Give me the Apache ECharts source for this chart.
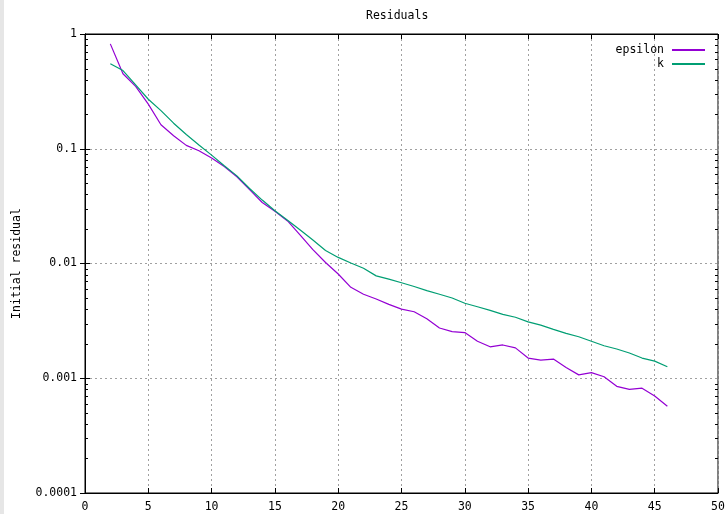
<!DOCTYPE html>
<html>
<head>
<meta charset="utf-8">
<script src="https://cdn.jsdelivr.net/npm/echarts@6/dist/echarts.min.js"></script>
<style>
html,body{margin:0;padding:0;background:#fff;}
#chart{width:727px;height:514px;}
</style>
</head>
<body>
<div id="chart"></div>
<script>
var iterations = [2,3,4,5,6,7,8,9,10,11,12,13,14,15,16,17,18,19,20,21,22,23,24,25,26,27,28,29,30,31,32,33,34,35,36,37,38,39,40,41,42,43,44,45,46];
var epsilonRes = [0.82,0.45,0.35,0.245,0.162,0.13,0.107,0.096,0.083,0.07,0.057,0.044,0.034,0.0285,0.0235,0.0177,0.0132,0.0102,0.0081,0.0062,0.0054,0.0049,0.0044,0.0040,0.0038,0.0033,0.00274,0.00255,0.0025,0.0021,0.00188,0.00195,0.00184,0.0015,0.00144,0.00147,0.00124,0.00107,0.00112,0.00103,0.00085,0.0008,0.00082,0.0007,0.00057];
var kRes = [0.55,0.48,0.36,0.27,0.215,0.167,0.133,0.108,0.088,0.071,0.058,0.045,0.0357,0.0288,0.0238,0.0196,0.016,0.013,0.0113,0.0101,0.0091,0.0078,0.0073,0.0068,0.0063,0.0058,0.0054,0.005,0.0045,0.0042,0.0039,0.0036,0.0034,0.0031,0.0029,0.00267,0.00246,0.0023,0.0021,0.00192,0.0018,0.00166,0.0015,0.00141,0.00126];
var yTickLabels = ['0.0001','0.001','0.01','0.1','1'];
var minorTicks = [0.0002,0.0003,0.0004,0.0005,0.0006,0.0007,0.0008,0.0009,
                  0.002,0.003,0.004,0.005,0.006,0.007,0.008,0.009,
                  0.02,0.03,0.04,0.05,0.06,0.07,0.08,0.09,
                  0.2,0.3,0.4,0.5,0.6,0.7,0.8,0.9];
var seriesNames = ['epsilon','k'];
var colors = ['#9400d3','#009e73'];
var FONT = 'DejaVu Sans Mono';

function pairs(xs, ys){ return xs.map(function(x,i){ return [x, ys[i]]; }); }
function fmtLog(v){
  var e = Math.round(Math.log10(v));
  return yTickLabels[e + 4] !== undefined ? yTickLabels[e + 4] : '';
}

var chart = echarts.init(document.getElementById('chart'), null, {renderer:'canvas'});
var option = {
  animation: false,
  backgroundColor: '#ffffff',
  title: {
    text: 'Residuals', left: 361, top: 5,
    textStyle: {fontFamily: FONT, fontSize: 11.5, fontWeight: 'normal', color: '#000'}
  },
  graphic: [{type:'rect', shape:{x:0,y:0,width:4,height:514}, style:{fill:'#e6e6e6'}, silent:true}],
  legend: {
    data: seriesNames, orient: 'vertical', right: 17, top: 39, align: 'right',
    itemWidth: 33, itemHeight: 12, itemGap: 2,
    icon: 'path://M0 0H33V2H0Z',
    textStyle: {fontFamily: FONT, fontSize: 11.5, color: '#000', padding: [0,3,0,0]}
  },
  grid: {left: 85, right: 9, top: 34, bottom: 21, containLabel: false, outerBoundsMode: 'none',
         show: true, borderColor: '#000', borderWidth: 1},
  xAxis: [{
    type: 'value', min: 0, max: 50, interval: 5, position: 'bottom',
    axisLine: {show: true, onZero: false, lineStyle: {color: '#000', width: 1}},
    axisTick: {show: true, inside: true, length: 5, lineStyle: {color: '#000'}},
    axisLabel: {fontFamily: FONT, fontSize: 11.5, color: '#000', margin: 8},
    splitLine: {show: true, lineStyle: {color: '#a0a0a0', type: [2,3], width: 1}}
  },{
    type: 'value', min: 0, max: 50, interval: 5, position: 'top',
    axisLine: {show: true, onZero: false, lineStyle: {color: '#000', width: 1}},
    axisTick: {show: true, inside: true, length: 5, lineStyle: {color: '#000'}},
    axisLabel: {show: false}, splitLine: {show: false}
  }],
  yAxis: [{
    type: 'log', logBase: 10, min: 0.0001, max: 1, position: 'left',
    name: 'Initial residual', nameLocation: 'middle', nameGap: 62, nameRotate: 90,
    nameTextStyle: {fontFamily: FONT, fontSize: 11.5, color: '#000'},
    axisLine: {show: true, lineStyle: {color: '#000', width: 1}},
    axisTick: {show: true, inside: true, length: 5, lineStyle: {color: '#000'}},
    axisLabel: {fontFamily: FONT, fontSize: 11.5, color: '#000', margin: 8, formatter: fmtLog},
    splitLine: {show: true, lineStyle: {color: '#a0a0a0', type: [2,3], width: 1}}
  },{
    type: 'log', logBase: 10, min: 0.0001, max: 1, position: 'right',
    axisLine: {show: true, lineStyle: {color: '#000', width: 1}},
    axisTick: {show: true, inside: true, length: 5, lineStyle: {color: '#000'}},
    axisLabel: {show: false}, splitLine: {show: false}
  }],
  series: [{
    name: seriesNames[0], type: 'line', data: pairs(iterations, epsilonRes),
    symbol: 'none', showSymbol: false, color: colors[0],
    lineStyle: {width: 1.2, color: colors[0]}, z: 3
  },{
    name: seriesNames[1], type: 'line', data: pairs(iterations, kRes),
    symbol: 'none', showSymbol: false, color: colors[1],
    lineStyle: {width: 1.2, color: colors[1]}, z: 3
  },{
    type: 'custom', silent: true, z: 5,
    data: minorTicks.map(function(v){ return [v]; }),
    renderItem: function(params, api){
      var v = api.value(0);
      var l = api.coord([0, v]);
      var r = api.coord([50, v]);
      var y = Math.round(l[1]) + 0.5;
      return {type:'group', children:[
        {type:'line', shape:{x1:l[0], y1:y, x2:l[0]+3, y2:y}, style:{stroke:'#000', lineWidth:1}},
        {type:'line', shape:{x1:r[0], y1:y, x2:r[0]-3, y2:y}, style:{stroke:'#000', lineWidth:1}}
      ]};
    }
  }]
};
chart.setOption(option);
</script>
</body>
</html>
